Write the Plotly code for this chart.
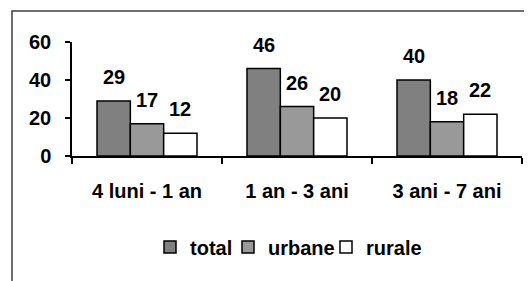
import plotly.graph_objects as go

categories = ["4 luni - 1 an", "1 an - 3 ani", "3 ani - 7 ani"]
series_names = ["total", "urbane", "rurale"]
total = [29, 46, 40]
urbane = [17, 26, 18]
rurale = [12, 20, 22]
y_ticks = [0, 20, 40, 60]

values = [total, urbane, rurale]
colors = ["#808080", "#999999", "#ffffff"]
legend_widths = [33, 53, 60]
FONT = "Liberation Sans, Arial, sans-serif"
FS = 20

# page has an 8px body margin; figure sized to fit the 532x281 window
W, H = 524, 273
ml, mr, mt, mb = 64, 10, 34, 125
pw = W - ml - mr
ph = H - mt - mb

fig = go.Figure()
for name, vals, col, lw in zip(series_names, values, colors, legend_widths):
    fig.add_trace(go.Bar(
        x=categories, y=vals, name=name, legendwidth=lw,
        marker=dict(color=col, line=dict(color="#000000", width=1.5)),
    ))

# data labels floating above bars
bar_w = pw / 3 * (1 - 1 / 3) / 3
for i, vals in enumerate(values):
    for c, v in zip(categories, vals):
        fig.add_annotation(
            x=c, y=v, text=str(v), showarrow=False,
            xshift=(i - 1) * bar_w, yshift=24, yanchor="middle",
            font=dict(family=FONT, size=FS, color="#000000", weight="bold"),
        )

# outer frame (open to the right and bottom)
fig.add_shape(
    type="rect", xref="paper", yref="paper",
    x0=(4 - ml) / pw, x1=(560 - ml) / pw,
    y0=(mt + ph - 320) / ph, y1=(mt + ph - 3) / ph,
    line=dict(color="#404040", width=1.5), fillcolor="rgba(0,0,0,0)",
    layer="below",
)

fig.update_layout(
    template="none",
    width=W, height=H,
    margin=dict(l=ml, r=mr, t=mt, b=mb, autoexpand=False),
    paper_bgcolor="#ffffff", plot_bgcolor="#ffffff",
    barmode="group", bargap=1 / 3, bargroupgap=0,
    font=dict(family=FONT, size=FS, color="#000000", weight="bold"),
    showlegend=True,
    legend=dict(
        orientation="h", x=(150 - 72) / pw, xanchor="left",
        y=-91 / ph, yanchor="middle",
        font=dict(family=FONT, size=FS, weight="bold"),
        itemwidth=30, traceorder="normal", bgcolor="rgba(0,0,0,0)",
        borderwidth=0,
    ),
    xaxis=dict(
        automargin=False,
        showline=True, linecolor="#000000", linewidth=1.5,
        ticks="outside", ticklen=6, tickcolor="#000000", tickwidth=1.5,
        tickson="boundaries", showgrid=False, ticklabelstandoff=16,
        tickfont=dict(family=FONT, size=FS, weight="bold"),
    ),
    yaxis=dict(
        automargin=False,
        range=[0, 60], tickvals=y_ticks,
        showline=True, linecolor="#000000", linewidth=1.5,
        ticks="outside", ticklen=5, tickcolor="#000000", tickwidth=1.5,
        showgrid=False, zeroline=False, ticklabelstandoff=10,
        tickfont=dict(family=FONT, size=FS, weight="bold"),
    ),
)

fig.write_html("out.html")
